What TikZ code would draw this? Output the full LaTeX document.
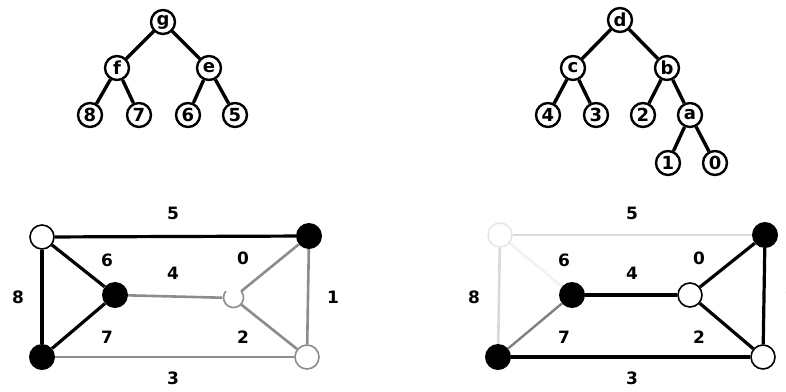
\documentclass[tikz,border=0pt]{standalone}
\usepackage{fontspec}
\setmainfont{DejaVu Sans}
\usetikzlibrary{backgrounds}
\begin{document}
\begin{tikzpicture}[x=1pt,y=-1pt,
  tnode/.style={circle,draw=black,line width=2.4pt,fill=white,minimum size=24pt,inner sep=0pt,font=\bfseries\fontsize{18}{18}\selectfont},
  tedge/.style={line width=3.4pt,black},
  wv/.style={circle,draw=black,line width=1.6pt,fill=white,minimum size=24pt,inner sep=0pt},
  bv/.style={circle,fill=black,minimum size=26pt,inner sep=0pt},
  gv/.style={circle,draw=black!45,line width=1.6pt,fill=white,minimum size=24pt,inner sep=0pt},
  bedge/.style={line width=3.2pt,black},
  gedge/.style={line width=2.6pt,black!45},
  fedge/.style={line width=2.6pt,black!15},
  lbl/.style={font=\bfseries\fontsize{17}{17}\selectfont}]
\useasboundingbox (0,0) rectangle (786,391);
\begin{scope}[on background layer]
\fill[white] (0,0) rectangle (786,391);
\end{scope}
% left tree
\node[tnode] (g) at (163,22) {g};
\node[tnode] (f) at (117,68) {f};
\node[tnode] (e) at (209,68) {e};
\node[tnode] (t8) at (90,115) {8};
\node[tnode] (t7) at (139,115) {7};
\node[tnode] (t6) at (188,115) {6};
\node[tnode] (t5) at (235,115) {5};
\begin{scope}[on background layer]
\draw[tedge] (g) -- (f); \draw[tedge] (g) -- (e);
\draw[tedge] (f) -- (t8); \draw[tedge] (f) -- (t7);
\draw[tedge] (e) -- (t6); \draw[tedge] (e) -- (t5);
\end{scope}
% right tree
\node[tnode] (d) at (620,20) {d};
\node[tnode] (c) at (573,68) {c};
\node[tnode] (b) at (667,68) {b};
\node[tnode] (r4) at (548,115) {4};
\node[tnode] (r3) at (596,115) {3};
\node[tnode] (r2) at (643,115) {2};
\node[tnode] (a) at (690,115) {a};
\node[tnode] (r1) at (668,163) {1};
\node[tnode] (r0) at (715,163) {0};
\begin{scope}[on background layer]
\draw[tedge] (d) -- (c); \draw[tedge] (d) -- (b);
\draw[tedge] (c) -- (r4); \draw[tedge] (c) -- (r3);
\draw[tedge] (b) -- (r2); \draw[tedge] (b) -- (a);
\draw[tedge] (a) -- (r1); \draw[tedge] (a) -- (r0);
\end{scope}
% left graph
\node[wv] (LTL) at (42,237) {};
\node[bv] (LTR) at (309,236) {};
\node[bv] (LMB) at (115,295) {};
\node (LMO) at (233,298) [circle,minimum size=21pt,inner sep=0pt] {};
\node[bv] (LBL) at (42,357) {};
\node[gv] (LBR) at (307,357) {};
\begin{scope}[on background layer]
\draw[bedge] (LTL) -- (LTR);
\draw[bedge] (LTL) -- (LMB);
\draw[bedge] (LTL) -- (LBL);
\draw[bedge] (LBL) -- (LMB);
\draw[gedge] (LMB) -- (LMO);
\draw[gedge] (LMO) -- (LTR);
\draw[gedge] (LMO) -- (LBR);
\draw[gedge] (LTR) -- (LBR);
\draw[gedge] (LBL) -- (LBR);
\end{scope}
\draw[black!45,line width=1.6pt] (LMO.40) arc[start angle=40,end angle=-220,radius=10pt];
\node[lbl] (l5) at (173,213) {5};
\node[lbl] (l6) at (107,260) {6};
\node[lbl] (l4) at (173,273) {4};
\node[lbl] (l0) at (243,258) {0};
\node[lbl] (l8) at (18,297) {8};
\node[lbl] (l1) at (333,297) {1};
\node[lbl] (l7) at (107,337) {7};
\node[lbl] (l2) at (243,337) {2};
\node[lbl] (l3) at (173,378) {3};
% right graph
\node[circle,draw=black!10,line width=1.4pt,fill=white,minimum size=24pt,inner sep=0pt] (RTL) at (500,235) {};
\node[bv] (RTR) at (765,235) {};
\node[bv] (RMB) at (572,295) {};
\node[wv] (RMO) at (690,295) {};
\node[bv] (RBL) at (498,357) {};
\node[wv] (RBR) at (763,357) {};
\begin{scope}[on background layer]
\draw[fedge] (RTL) -- (RTR);
\draw[fedge] (RTL) -- (RBL);
\draw[line width=2.6pt,black!5] (RTL) -- (RMB);
\draw[line width=2.4pt,black!50] (RBL) -- (RMB);
\draw[bedge] (RMB) -- (RMO);
\draw[bedge] (RMO) -- (RTR);
\draw[bedge] (RMO) -- (RBR);
\draw[bedge] (RTR) -- (RBR);
\draw[bedge] (RBL) -- (RBR);
\end{scope}
\node[lbl] (m5) at (632,213) {5};
\node[lbl] (m6) at (564,260) {6};
\node[lbl] (m4) at (632,273) {4};
\node[lbl] (m0) at (699,258) {0};
\node[lbl] (m8) at (474,297) {8};
\node[lbl] (m1) at (790,297) {1};
\node[lbl] (m7) at (564,337) {7};
\node[lbl] (m2) at (699,337) {2};
\node[lbl] (m3) at (632,378) {3};
\end{tikzpicture}
\end{document}
